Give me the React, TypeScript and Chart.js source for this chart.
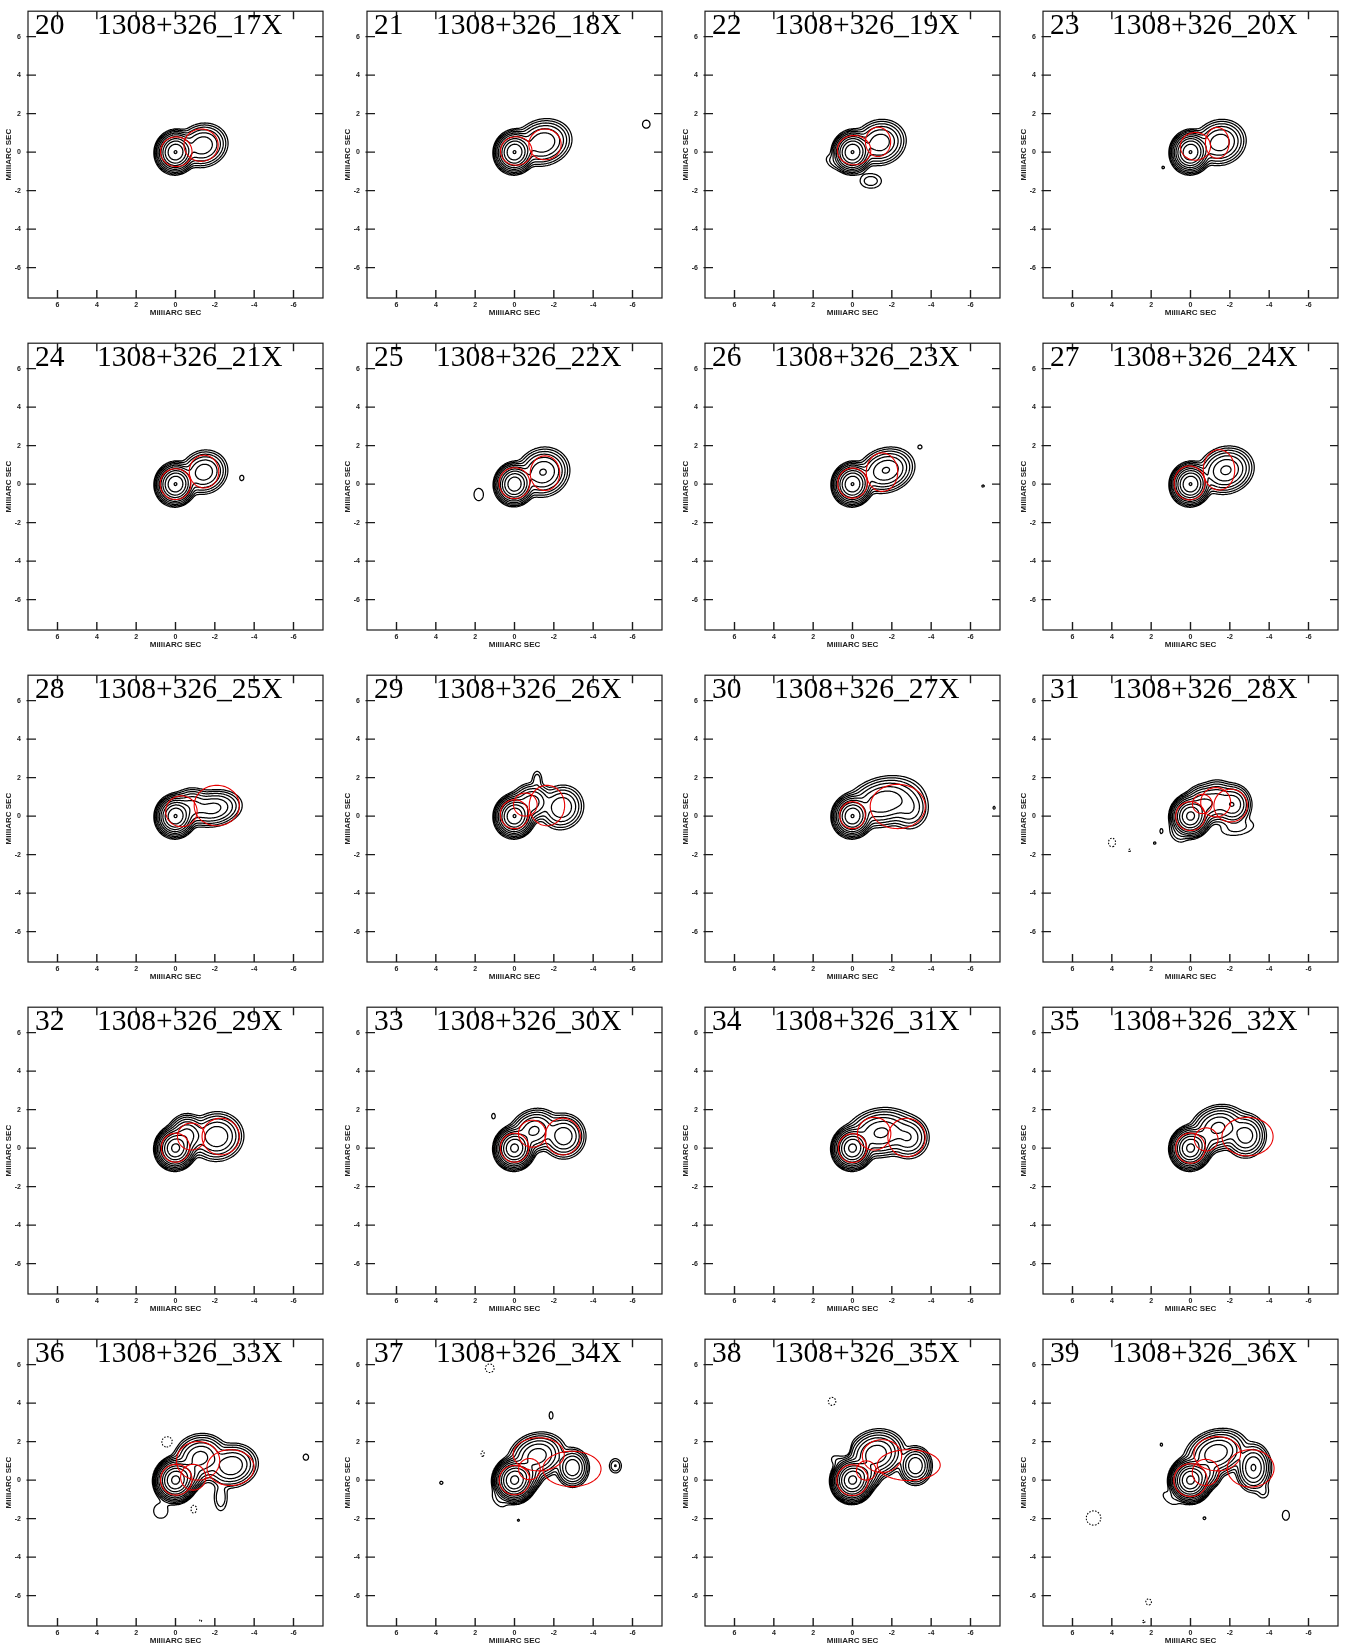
import React, { useEffect, useRef } from 'react';
import { Chart, registerables } from 'chart.js';

Chart.register(...registerables);

// ---- chart data ----------------------------------------------------------

const sourceName = '1308+326';
const panelNumbers = [20, 21, 22, 23, 24, 25, 26, 27, 28, 29, 30, 31, 32, 33, 34, 35, 36, 37, 38, 39];
const epochNames = ['17X', '18X', '19X', '20X', '21X', '22X', '23X', '24X', '25X', '26X',
  '27X', '28X', '29X', '30X', '31X', '32X', '33X', '34X', '35X', '36X'];

// lowest contour as a fraction of the core peak; levels double from here
const contourBase = [0.0019, 0.0019, 0.0019, 0.0019, 0.0019, 0.0022, 0.0019, 0.0019, 0.0019, 0.0019,
  0.0019, 0.0016, 0.0016, 0.0016, 0.0016, 0.0016, 0.0008, 0.0008, 0.0008, 0.0008];

const axisTicks = [-6, -4, -2, 0, 2, 4, 6];
const xRange = [-7.5, 7.5];
const yRange = [-7.58, 7.32];

// restored core: [x, y, peak, sigmaMajor, sigmaMinor, PA deg] (mas)
const coreShape = [0, 0, 1, 0.34, 0.31, -10];

// jet emission per epoch, same layout as coreShape
const jetComponents: number[][][] = [
  [[-1.38, 0.35, 0.11, 0.46, 0.4, -70]],
  [[-1.45, 0.5, 0.12, 0.52, 0.42, -72]],
  [[-1.4, 0.5, 0.1, 0.48, 0.42, -70], [1.0, -0.5, 0.004, 0.3, 0.2, 50]],
  [[-1.5, 0.5, 0.1, 0.48, 0.42, -70]],
  [[-1.45, 0.62, 0.1, 0.44, 0.4, -60]],
  [[-1.45, 0.62, 0.15, 0.48, 0.44, -60]],
  [[-1.7, 0.72, 0.13, 0.52, 0.4, -70]],
  [[-1.8, 0.72, 0.14, 0.5, 0.42, -70]],
  [[-0.8, 0.5, 0.08, 0.38, 0.35, -70], [-1.9, 0.4, 0.08, 0.55, 0.35, -80]],
  [[-0.85, 0.7, 0.1, 0.4, 0.36, -60], [-2.4, 0.45, 0.06, 0.45, 0.42, -30], [-1.15, 1.9, 0.006, 0.28, 0.15, 0]],
  [[-1.6, 0.75, 0.12, 0.7, 0.45, -75], [-2.9, 0.4, 0.03, 0.45, 0.4, 0]],
  [[-0.65, 0.6, 0.12, 0.36, 0.34, 0], [-1.35, 0.78, 0.07, 0.4, 0.36, 0], [-2.15, 0.6, 0.1, 0.38, 0.34, 0],
    [-2.4, -0.6, 0.004, 0.6, 0.28, -80], [0.65, -0.95, 0.004, 0.32, 0.22, 40]],
  [[-0.6, 0.65, 0.15, 0.38, 0.34, 0], [-2.1, 0.6, 0.1, 0.48, 0.45, -80]],
  [[-1.0, 0.9, 0.12, 0.45, 0.38, -60], [-2.5, 0.62, 0.09, 0.42, 0.4, 0]],
  [[-1.45, 0.8, 0.12, 0.62, 0.44, -80], [-2.85, 0.55, 0.05, 0.42, 0.4, 0]],
  [[-0.6, 0.35, 0.06, 0.3, 0.3, 0], [-1.4, 1.05, 0.13, 0.5, 0.4, -70], [-2.8, 0.65, 0.08, 0.42, 0.38, 0]],
  [[-0.6, 0.3, 0.08, 0.3, 0.3, 0], [-1.25, 1.15, 0.07, 0.48, 0.42, -70], [-2.85, 0.75, 0.05, 0.48, 0.4, -75],
    [-2.3, -0.9, 0.003, 0.42, 0.2, 0], [0.75, -1.6, 0.0015, 0.34, 0.32, 0]],
  [[-0.55, 0.3, 0.08, 0.3, 0.3, 0], [-1.15, 1.25, 0.08, 0.5, 0.4, -70], [-2.95, 0.65, 0.05, 0.36, 0.3, 0],
    [0.8, -1.05, 0.0014, 0.36, 0.2, 40]],
  [[-0.6, 0.35, 0.08, 0.3, 0.3, 0], [-1.2, 1.35, 0.09, 0.5, 0.42, -70], [-3.2, 0.75, 0.05, 0.36, 0.3, 0],
    [0.75, 1.0, 0.0015, 0.3, 0.2, 60]],
  [[-0.7, 0.35, 0.07, 0.3, 0.3, 0], [-1.3, 1.4, 0.09, 0.55, 0.4, -70], [-3.2, 0.65, 0.055, 0.45, 0.32, 0],
    [1.05, -0.95, 0.0014, 0.38, 0.2, 50], [-3.7, -0.6, 0.0018, 0.25, 0.2, 0]],
];

// isolated map features: [x, y, peak, sigmaX, sigmaY]; negative peaks give dashed contours
const noiseSpots: number[][][] = [
  [],
  [[-6.7, 1.45, 0.003, 0.2, 0.22]],
  [[-0.93, -1.5, 0.0058, 0.36, 0.25]],
  [[1.39, -0.8, 0.0034, 0.06, 0.06]],
  [[-3.37, 0.32, 0.0028, 0.12, 0.16]],
  [[1.82, -0.54, 0.0036, 0.24, 0.32]],
  [[-3.43, 1.93, 0.0026, 0.13, 0.13], [-6.64, -0.1, 0.0034, 0.06, 0.05]],
  [],
  [],
  [],
  [[-7.2, 0.43, 0.0034, 0.05, 0.07]],
  [[1.48, -0.78, 0.0022, 0.09, 0.16], [1.82, -1.4, 0.0022, 0.08, 0.08], [3.99, -1.37, -0.0024, 0.2, 0.25],
    [3.1, -1.78, -0.002, 0.09, 0.1]],
  [],
  [[1.07, 1.66, 0.0024, 0.1, 0.16]],
  [],
  [],
  [[0.42, 1.98, -0.0013, 0.28, 0.28], [-0.93, -1.51, -0.0011, 0.18, 0.26], [-6.63, 1.19, 0.0011, 0.17, 0.2],
    [-1.28, -7.3, -0.0011, 0.07, 0.06]],
  [[-1.86, 3.36, 0.0014, 0.09, 0.18], [-5.13, 0.74, 0.0033, 0.18, 0.22], [3.72, -0.14, 0.0012, 0.09, 0.09],
    [-0.2, -2.09, 0.0014, 0.05, 0.05], [1.62, 1.37, -0.0011, 0.1, 0.18], [1.26, 5.81, -0.0011, 0.28, 0.28]],
  [[1.04, 4.09, -0.0011, 0.24, 0.26], [0.2, 1.6, -0.0011, 0.14, 0.28]],
  [[1.48, 1.84, 0.0013, 0.06, 0.08], [-0.71, -1.98, 0.0011, 0.09, 0.09], [-4.85, -1.83, 0.0013, 0.18, 0.26],
    [4.93, -1.97, -0.0014, 0.35, 0.35], [2.13, -6.33, -0.0011, 0.18, 0.2], [2.38, -7.35, -0.0011, 0.09, 0.08]],
];

// model-fit components: [x, y, semi-axis x, semi-axis y] (mas)
const modelEllipses: number[][][] = [
  [[-0.04, 0.02, 0.8, 0.77], [-1.3, 0.36, 0.87, 0.84]],
  [[-0.09, 0.06, 0.8, 0.74], [-1.55, 0.4, 0.82, 0.8]],
  [[-0.08, 0.1, 0.85, 0.76], [-1.3, 0.53, 0.64, 0.76]],
  [[-0.25, 0.3, 0.77, 0.72], [-1.36, 0.48, 0.6, 0.8]],
  [[0, 0, 0.78, 0.8], [-1.45, 0.65, 0.75, 0.85]],
  [[0, 0.05, 0.78, 0.8], [-1.55, 0.57, 0.75, 0.9]],
  [[0, 0.05, 0.75, 0.78], [-1.5, 0.62, 0.8, 1.0]],
  [[0.05, 0.06, 0.78, 0.88], [-1.45, 0.74, 0.8, 1.05]],
  [[-0.3, 0.25, 0.8, 0.8], [-2.1, 0.55, 1.15, 1.05]],
  [[0, 0.1, 0.72, 0.75], [-0.55, 0.6, 0.6, 0.6], [-1.65, 0.55, 0.9, 1.05]],
  [[0, 0.05, 0.65, 0.7], [-2.3, 0.5, 1.4, 1.15]],
  [[0, 0, 0.75, 0.75], [-0.6, 0.63, 0.5, 0.5], [-1.28, 0.72, 0.76, 0.76], [-2.04, 0.55, 0.85, 0.85]],
  [[0, 0.02, 0.72, 0.75], [-0.8, 0.6, 0.7, 0.7], [-2.3, 0.6, 0.95, 0.95]],
  [[0, 0.02, 0.72, 0.75], [-0.9, 0.75, 0.7, 0.7], [-2.45, 0.6, 0.9, 0.95]],
  [[0, 0, 0.72, 0.75], [-1.1, 0.75, 0.85, 0.85], [-2.75, 0.55, 0.95, 1.0]],
  [[0, 0, 0.75, 0.78], [-0.8, 0.45, 0.6, 0.6], [-2.9, 0.6, 1.3, 1.0]],
  [[-0.04, 0.02, 0.8, 0.8], [-0.9, 0.15, 0.64, 0.67], [-1.15, 1.0, 1.1, 1.0], [-2.8, 0.65, 1.2, 0.93]],
  [[0, 0, 0.78, 0.76], [-0.76, 0.57, 0.55, 0.55], [-1.23, 1.34, 1.3, 0.86], [-2.92, 0.58, 1.48, 0.92]],
  [[0, 0, 0.8, 0.8], [-0.7, 0.5, 0.5, 0.5], [-1.5, 1.25, 1.0, 0.85], [-2.86, 0.78, 1.6, 0.8]],
  [[0, 0, 0.85, 0.85], [-0.77, 0.4, 0.68, 0.68], [-1.36, 1.37, 1.19, 0.89], [-3.06, 0.61, 1.19, 0.97]],
];

// ---- page layout ----------------------------------------------------------

const BOX_LEFT = [28, 367, 705, 1043];
const BOX_TOP = [4, 336, 668, 1000, 1332];
const AXIS_W = 28;
const AXIS_H = 36;
const CANVAS_W = 328;
const CANVAS_H = 334;
const TICK_LEN = 8;

// ---- map grid + contour tracing ------------------------------------------

const H = 0.05;
const NX = Math.round((xRange[1] - xRange[0]) / H) + 1;
const NY = Math.round((yRange[1] - yRange[0]) / H) + 1;

type Pt = { x: number; y: number };

function addGaussian(f: Float64Array, cx: number, cy: number, amp: number, sMaj: number, sMin: number, paDeg: number) {
  const pa = (paDeg * Math.PI) / 180;
  const s = Math.sin(pa);
  const c = Math.cos(pa);
  const reach = 5 * Math.max(sMaj, sMin);
  const i0 = Math.max(0, Math.floor((cx - reach - xRange[0]) / H));
  const i1 = Math.min(NX - 1, Math.ceil((cx + reach - xRange[0]) / H));
  const j0 = Math.max(0, Math.floor((cy - reach - yRange[0]) / H));
  const j1 = Math.min(NY - 1, Math.ceil((cy + reach - yRange[0]) / H));
  const a2 = sMaj * sMaj;
  const b2 = sMin * sMin;
  for (let j = j0; j <= j1; j++) {
    const dy = yRange[0] + j * H - cy;
    for (let i = i0; i <= i1; i++) {
      const dx = xRange[0] + i * H - cx;
      const u = dx * s + dy * c;
      const v = dx * c - dy * s;
      f[j * NX + i] += amp * Math.exp(-0.5 * (u * u / a2 + v * v / b2));
    }
  }
}

function buildMap(p: number): Float64Array {
  const f = new Float64Array(NX * NY);
  const comps = [coreShape, ...jetComponents[p]];
  for (const [x, y, a, sm, sn, pa] of comps) addGaussian(f, x, y, a, sm, sn, pa);
  for (const [x, y, a, sx, sy] of noiseSpots[p]) addGaussian(f, x, y, a, sy, sx, 0);
  return f;
}

function traceLevel(f: Float64Array, level: number): Pt[][] {
  const segA: number[] = [];
  const segB: number[] = [];
  const edgeSegs = new Map<number, number[]>();
  const addSeg = (e1: number, e2: number) => {
    const id = segA.length;
    segA.push(e1);
    segB.push(e2);
    for (const e of [e1, e2]) {
      const l = edgeSegs.get(e);
      if (l) l.push(id);
      else edgeSegs.set(e, [id]);
    }
  };
  for (let j = 0; j < NY - 1; j++) {
    for (let i = 0; i < NX - 1; i++) {
      const n = j * NX + i;
      const a = f[n];
      const b = f[n + 1];
      const c = f[n + NX + 1];
      const d = f[n + NX];
      let k = 0;
      if (a > level) k |= 1;
      if (b > level) k |= 2;
      if (c > level) k |= 4;
      if (d > level) k |= 8;
      if (k === 0 || k === 15) continue;
      const eB = n * 2;
      const eT = (n + NX) * 2;
      const eL = n * 2 + 1;
      const eR = (n + 1) * 2 + 1;
      switch (k) {
        case 1: case 14: addSeg(eL, eB); break;
        case 2: case 13: addSeg(eB, eR); break;
        case 3: case 12: addSeg(eL, eR); break;
        case 4: case 11: addSeg(eR, eT); break;
        case 6: case 9: addSeg(eB, eT); break;
        case 7: case 8: addSeg(eT, eL); break;
        case 5: {
          if ((a + b + c + d) / 4 > level) { addSeg(eB, eR); addSeg(eT, eL); }
          else { addSeg(eL, eB); addSeg(eR, eT); }
          break;
        }
        case 10: {
          if ((a + b + c + d) / 4 > level) { addSeg(eL, eB); addSeg(eR, eT); }
          else { addSeg(eB, eR); addSeg(eT, eL); }
          break;
        }
      }
    }
  }
  const pointOf = (e: number): Pt => {
    const vert = e & 1;
    const n = e >> 1;
    const i = n % NX;
    const j = (n - i) / NX;
    const v1 = f[n];
    const v2 = vert ? f[n + NX] : f[n + 1];
    const t = (level - v1) / (v2 - v1);
    return vert
      ? { x: xRange[0] + i * H, y: yRange[0] + (j + t) * H }
      : { x: xRange[0] + (i + t) * H, y: yRange[0] + j * H };
  };
  const used = new Uint8Array(segA.length);
  const walk = (from: number): number[] => {
    const out: number[] = [];
    let edge = from;
    for (;;) {
      const list = edgeSegs.get(edge)!;
      let next = -1;
      for (const s of list) if (!used[s]) { next = s; break; }
      if (next < 0) break;
      used[next] = 1;
      edge = segA[next] === edge ? segB[next] : segA[next];
      out.push(edge);
    }
    return out;
  };
  const lines: Pt[][] = [];
  for (let s = 0; s < segA.length; s++) {
    if (used[s]) continue;
    used[s] = 1;
    const fwd = walk(segB[s]);
    const back = walk(segA[s]);
    const edges = [...back.reverse(), segA[s], segB[s], ...fwd];
    lines.push(edges.map(pointOf));
  }
  return lines;
}

// polylines joined into one series, broken by NaN points
function joinLines(lines: Pt[][]): Pt[] {
  const out: Pt[] = [];
  for (const l of lines) {
    for (const q of l) out.push(q);
    out.push({ x: NaN, y: NaN });
  }
  return out;
}

function contourData(p: number) {
  const f = buildMap(p);
  let peak = 0;
  for (let k = 0; k < f.length; k++) if (f[k] > peak) peak = f[k];
  const base = contourBase[p];
  const positive: Pt[][] = [];
  for (let lv = base; lv < peak; lv *= 2) positive.push(...traceLevel(f, lv));
  const neg = new Float64Array(f.length);
  for (let k = 0; k < f.length; k++) neg[k] = -f[k];
  const negative = traceLevel(neg, base);
  return { positive: joinLines(positive), negative: joinLines(negative) };
}

function ellipseData(p: number): Pt[] {
  const rings: Pt[][] = [];
  for (const [cx, cy, rx, ry] of modelEllipses[p]) {
    const ring: Pt[] = [];
    for (let k = 0; k <= 96; k++) {
      const t = (k / 96) * Math.PI * 2;
      ring.push({ x: cx + rx * Math.cos(t), y: cy + ry * Math.sin(t) });
    }
    rings.push(ring);
  }
  return joinLines(rings);
}

// ---- frame with inward ticks ---------------------------------------------

const framePlugin = {
  id: 'mapFrame',
  afterDraw(chart: any) {
    const { ctx, chartArea, scales } = chart;
    const { left, top, right, bottom } = chartArea;
    ctx.save();
    ctx.strokeStyle = '#1c1c1c';
    ctx.lineWidth = 1.2;
    ctx.strokeRect(left, top, right - left, bottom - top);
    ctx.lineWidth = 1.4;
    ctx.beginPath();
    for (const t of scales.x.ticks) {
      const px = scales.x.getPixelForValue(t.value);
      ctx.moveTo(px, top);
      ctx.lineTo(px, top + TICK_LEN);
      ctx.moveTo(px, bottom);
      ctx.lineTo(px, bottom - TICK_LEN);
    }
    for (const t of scales.y.ticks) {
      const py = scales.y.getPixelForValue(t.value);
      ctx.moveTo(left - 1.5, py);
      ctx.lineTo(left + TICK_LEN, py);
      ctx.moveTo(right, py);
      ctx.lineTo(right - TICK_LEN, py);
    }
    ctx.stroke();
    ctx.restore();
  },
};

const tickFont = { family: "'Liberation Sans', Arial, sans-serif", size: 7, weight: 'bold' as const };
const titleFont = { family: "'Liberation Sans', Arial, sans-serif", size: 8, weight: 'bold' as const };

function buildConfig(p: number): any {
  const { positive, negative } = contourData(p);
  const lineBase = { showLine: true, pointRadius: 0, pointHoverRadius: 0, spanGaps: false, fill: false };
  return {
    type: 'scatter',
    data: {
      datasets: [
        { ...lineBase, data: ellipseData(p), borderColor: 'rgb(232,0,0)', borderWidth: 1.1, borderDash: [1000, 0] },
        { ...lineBase, data: positive, borderColor: '#000', borderWidth: 1.25, borderDash: [1000, 0] },
        { ...lineBase, data: negative, borderColor: '#000', borderWidth: 1.1, borderDash: [1.5, 1.5] },
      ],
    },
    options: {
      animation: false,
      responsive: false,
      devicePixelRatio: 1,
      events: [],
      layout: { padding: { left: 0, top: 4, right: 5, bottom: 0 } },
      plugins: { legend: { display: false }, tooltip: { enabled: false } },
      scales: {
        x: {
          type: 'linear',
          min: xRange[0],
          max: xRange[1],
          reverse: true,
          grid: { display: false, drawTicks: false },
          border: { display: false },
          ticks: {
            stepSize: 2,
            includeBounds: false,
            autoSkip: false,
            maxRotation: 0,
            padding: 3,
            color: '#222',
            font: tickFont,
          },
          title: { display: true, text: 'MilliARC SEC', color: '#222', font: titleFont, padding: { top: 0, bottom: 16 } },
          afterFit: (s: any) => { s.height = AXIS_H; },
        },
        y: {
          type: 'linear',
          min: yRange[0],
          max: yRange[1],
          grid: { display: false, drawTicks: false },
          border: { display: false },
          ticks: {
            stepSize: 2,
            includeBounds: false,
            autoSkip: false,
            padding: 7,
            color: '#222',
            font: tickFont,
          },
          title: { display: true, text: 'MilliARC SEC', color: '#222', font: titleFont, padding: { top: 4, bottom: 0 } },
          afterFit: (s: any) => { s.width = AXIS_W; },
        },
      },
    },
    plugins: [framePlugin],
  };
}

// ---- components -----------------------------------------------------------

const labelStyle: React.CSSProperties = {
  position: 'absolute',
  fontFamily: "'Liberation Serif', 'Times New Roman', serif",
  fontSize: '29.5px',
  lineHeight: '30px',
  color: '#000',
  whiteSpace: 'nowrap',
};

function MapPanel({ index }: { index: number }) {
  const ref = useRef<HTMLCanvasElement>(null);
  useEffect(() => {
    const chart = new Chart(ref.current as HTMLCanvasElement, buildConfig(index));
    return () => chart.destroy();
  }, [index]);
  const left = BOX_LEFT[index % 4];
  const top = BOX_TOP[Math.floor(index / 4)];
  return (
    <>
      <canvas
        ref={ref}
        width={CANVAS_W}
        height={CANVAS_H}
        style={{ position: 'absolute', left: left - AXIS_W, top: top - 4, width: CANVAS_W, height: CANVAS_H }}
      />
      <div style={{ ...labelStyle, left: left + 7, top: top + 5 }}>{panelNumbers[index]}</div>
      <div style={{ ...labelStyle, left: left + 69, top: top + 5 }}>{`${sourceName}_${epochNames[index]}`}</div>
    </>
  );
}

export default function App() {
  return (
    <div style={{ position: 'absolute', left: 0, top: 0, width: 1356, height: 1648, background: '#fff' }}>
      {panelNumbers.map((_, i) => (
        <MapPanel key={i} index={i} />
      ))}
    </div>
  );
}
